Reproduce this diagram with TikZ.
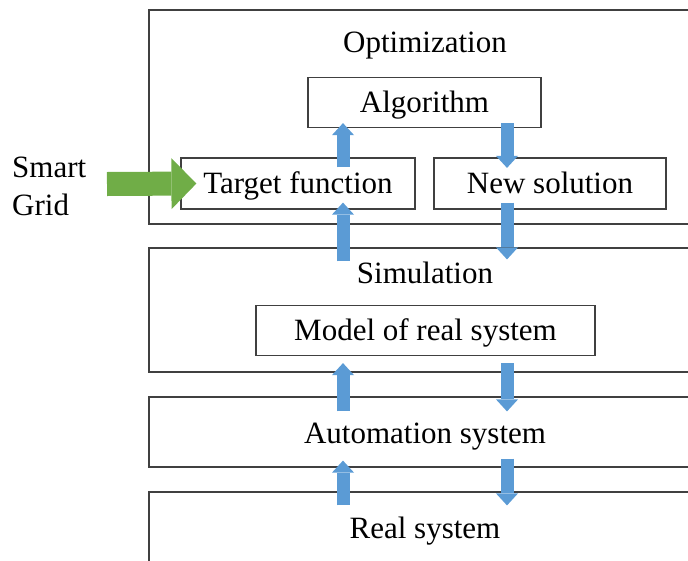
\documentclass[tikz,border=0pt]{standalone}
\usepackage{fontspec}
\setmainfont{Liberation Serif}
\usetikzlibrary{arrows.meta,calc}
\definecolor{boxline}{HTML}{404040}
\definecolor{blu}{HTML}{5B9BD5}
\definecolor{grn}{HTML}{70AD47}
\begin{document}
\begin{tikzpicture}[x=1pt,y=-1pt,
  box/.style={draw=boxline, line width=1.2pt, inner sep=0pt},
  lbl/.style={font=\fontsize{31}{38}\selectfont, inner sep=0pt},
  inbox/.style={box, lbl, text height=20.5pt, text depth=0pt},
  blk/.style={draw=blu, line width=13pt, -{Triangle[width=22pt,length=12pt,line width=0pt]}},
  grnarrow/.style={draw=grn, line width=24pt, -{Triangle[width=51pt,length=25pt,line width=0pt]}}]
\useasboundingbox (0,0) rectangle (688,560);
\clip (0,0) rectangle (688,560);
% outer boxes
\node[box, minimum width=551pt, minimum height=214pt] (opt) at (424.5,117) {};
\node[box, minimum width=551pt, minimum height=124pt] (sim) at (424.5,310) {};
\node[box, minimum width=551pt, minimum height=70pt] (auto) at (424.5,432) {};
\node[box, minimum width=551pt, minimum height=120pt] (real) at (424.5,552) {};
% labels of outer boxes
\node[lbl, anchor=base] (optt) at (425,52) {Optimization};
\node[lbl, anchor=base] (simt) at (425,283) {Simulation};
\node[lbl, anchor=base] (autot) at (425,443) {Automation system};
\node[lbl, anchor=base] (realt) at (425,538) {Real system};
% inner boxes
\node[inbox, minimum width=233pt, minimum height=50pt] (alg) at (424.5,102.5) {Algorithm};
\node[inbox, minimum width=234pt, minimum height=51pt] (tf) at (298,183.5) {Target function};
\node[inbox, minimum width=232pt, minimum height=51pt] (ns) at (550,183.5) {New solution};
\node[inbox, minimum width=339pt, minimum height=50pt] (mod) at (425.5,330.5) {Model of real system};
% smart grid
\node[lbl, anchor=base west] (sgt1) at (12,177) {Smart};
\node[lbl, anchor=base west] (sgt2) at (12,215) {Grid};
\coordinate (sg) at (107,184);
\draw[grnarrow] (sg) -- ($(tf.west)+(16,0)$);
% blue arrows
\coordinate (ux) at (343,0);
\coordinate (dx) at (507,0);
\draw[blk] ($(tf.north -| ux)+(0,10)$) -- ($(alg.south -| ux)+(0,-5)$);
\draw[blk] ($(alg.south -| dx)+(0,-5)$) -- ($(ns.north -| dx)+(0,10.5)$);
\draw[blk] ($(sim.north -| ux)+(0,14)$) -- ($(tf.south -| ux)+(0,-7)$);
\draw[blk] ($(ns.south -| dx)+(0,-7)$) -- ($(sim.north -| dx)+(0,12)$);
\draw[blk] ($(auto.north -| ux)+(0,15)$) -- ($(mod.south -| ux)+(0,7)$);
\draw[blk] ($(mod.south -| dx)+(0,7)$) -- ($(auto.north -| dx)+(0,15)$);
\draw[blk] ($(real.north -| ux)+(0,14)$) -- ($(auto.south -| ux)+(0,-7)$);
\draw[blk] ($(auto.south -| dx)+(0,-9)$) -- ($(real.north -| dx)+(0,14)$);
\end{tikzpicture}
\end{document}
